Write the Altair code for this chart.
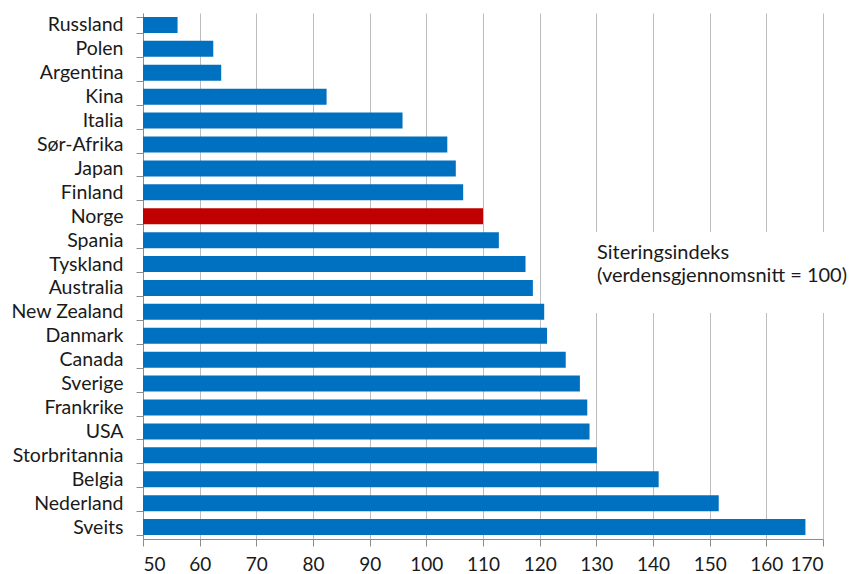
import altair as alt
import pandas as pd

# Citation index by country (world average = 100)
countries = [
    "Russland", "Polen", "Argentina", "Kina", "Italia", "Sør-Afrika", "Japan",
    "Finland", "Norge", "Spania", "Tyskland", "Australia", "New Zealand",
    "Danmark", "Canada", "Sverige", "Frankrike", "USA", "Storbritannia",
    "Belgia", "Nederland", "Sveits",
]
index_values = [
    56.1, 62.4, 63.8, 82.4, 95.8, 103.7, 105.2, 106.5, 110.0, 112.8, 117.5,
    118.8, 120.8, 121.3, 124.6, 127.1, 128.4, 128.8, 130.1, 141.0, 151.6, 166.9,
]
highlight = "Norge"
x_ticks = list(range(50, 171, 10))
axis_start = 50

df = pd.DataFrame({"land": countries, "indeks": index_values})
df["start"] = axis_start
df["gruppe"] = ["Norge" if c == highlight else "Andre" for c in countries]

FONT = "Lato"
W, H = 680, 526

bars = alt.Chart(df).mark_bar().encode(
    y=alt.Y(
        "land:N",
        sort=None,
        title=None,
        scale=alt.Scale(paddingInner=0.33, paddingOuter=0.165),
        axis=alt.Axis(
            labelFont=FONT, labelFontSize=19.5, labelColor="#1a1a1a",
            labelFontWeight="normal",
            labelPadding=13, tickBand="extent", tickSize=7,
            tickColor="#8c8c8c", domainColor="#8c8c8c", grid=False,
        ),
    ),
    x=alt.X(
        "start:Q",
        title=None,
        scale=alt.Scale(domain=[50, 170], nice=False, zero=False),
        axis=alt.Axis(
            values=x_ticks, labelFont=FONT, labelFontSize=19,
            labelColor="#1a1a1a", labelPadding=9, tickSize=7,
            tickColor="#8c8c8c", domainColor="#8c8c8c",
            gridColor="#bdbdbd", gridWidth=1,
        ),
    ),
    x2="indeks:Q",
    color=alt.Color(
        "gruppe:N",
        scale=alt.Scale(domain=["Andre", "Norge"], range=["#0070C0", "#C00000"]),
        legend=None,
    ),
)

# White panel behind the note so the grid lines break around it
note_bg = alt.Chart(pd.DataFrame({"a": [0]})).mark_rect(color="white").encode(
    x=alt.value(446), x2=alt.value(W + 10),
    y=alt.value(219), y2=alt.value(300),
)

note = alt.Chart(pd.DataFrame({"a": [0]})).mark_text(
    align="left", baseline="middle", font=FONT, fontSize=20,
    color="#1a1a1a", lineHeight=23,
    text=["Siteringsindeks", "(verdensgjennomsnitt = 100)"],
).encode(x=alt.value(454), y=alt.value(240))

chart = alt.layer(bars, note_bg, note).properties(
    width=W, height=H,
    autosize=alt.AutoSizeParams(type="none"),
    padding={"left": 143, "top": 13, "right": 27, "bottom": 35},
    background="white",
).configure_view(stroke=None)

chart.save("out.html", embed_options={"renderer": "svg", "actions": False})
